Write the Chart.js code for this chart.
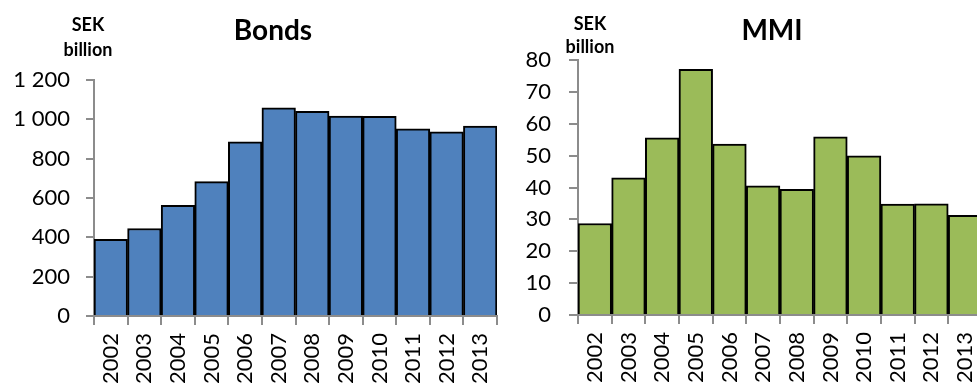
<!DOCTYPE html>
<html>
<head>
<meta charset="utf-8">
<script src="https://cdn.jsdelivr.net/npm/chart.js@4/dist/chart.umd.min.js"></script>
<style>
  html, body { margin: 0; padding: 0; background: #fff; }
  body { width: 977px; height: 387px; overflow: hidden; position: relative; }
  canvas { position: absolute; top: 0; }
  #bonds { left: 0; }
  #mmi { left: 500px; }
</style>
</head>
<body>
<canvas id="bonds" width="520" height="387"></canvas>
<canvas id="mmi" width="500" height="387"></canvas>
<script>
// Outstanding volumes by year, SEK billion
const years = ['2002', '2003', '2004', '2005', '2006', '2007', '2008', '2009', '2010', '2011', '2012', '2013'];
const bondValues = [390, 445, 563, 683, 886, 1058, 1041, 1017, 1015, 952, 937, 966];
const mmiValues = [28.7, 43.0, 55.6, 77.1, 53.6, 40.5, 39.4, 55.9, 49.9, 34.8, 34.9, 31.3];

// Value axis ranges
const bondAxis = { max: 1200, step: 200 };
const mmiAxis = { max: 80, step: 10 };

const FONT = 'Lato, "Open Sans", "DejaVu Sans", sans-serif';
const AXIS_GREY = '#8c8c8c';

// Draws headings and the unit label on top of the chart
const captionPlugin = {
  id: 'captions',
  afterDraw(chart, args, opts) {
    const ctx = chart.ctx;
    ctx.save();
    ctx.fillStyle = '#000';
    ctx.textAlign = 'center';
    ctx.textBaseline = 'alphabetic';
    (opts.items || []).forEach(it => {
      ctx.font = 'bold ' + it.size + 'px ' + FONT;
      ctx.fillText(it.text, it.x, it.y);
    });
    ctx.restore();
  }
};

function thousands(v) {
  return String(v).replace(/\B(?=(\d{3})+(?!\d))/g, ' ');
}

function makeChart(id, values, color, axis, geo, captions) {
  return new Chart(document.getElementById(id), {
    type: 'bar',
    data: {
      labels: years,
      datasets: [{
        data: values,
        backgroundColor: color,
        borderColor: '#000',
        borderWidth: 2,
        barPercentage: 1,
        categoryPercentage: 1
      }]
    },
    options: {
      responsive: false,
      animation: false,
      devicePixelRatio: 1,
      layout: { padding: { left: 0, top: geo.top, right: geo.right, bottom: 0 } },
      plugins: {
        legend: { display: false },
        tooltip: { enabled: false },
        captions: { items: captions }
      },
      scales: {
        x: {
          offset: true,
          grid: { display: true, offset: true, drawOnChartArea: false, drawTicks: true, tickLength: 9, color: AXIS_GREY, lineWidth: 2 },
          border: { display: true, color: AXIS_GREY, width: 2 },
          ticks: { color: '#000', font: { family: FONT, size: 22 }, minRotation: 90, maxRotation: 90, padding: 8, autoSkip: false },
          afterFit(s) { s.height = geo.xHeight; }
        },
        y: {
          min: 0,
          max: axis.max,
          grid: { display: true, drawOnChartArea: false, drawTicks: true, tickLength: geo.tick, color: AXIS_GREY, lineWidth: 2 },
          border: { display: true, color: AXIS_GREY, width: 2 },
          ticks: { stepSize: axis.step, color: '#000', font: { family: FONT, size: 22 }, padding: geo.pad, callback: v => thousands(v) },
          afterFit(s) { s.width = geo.yWidth; }
        }
      }
    },
    plugins: [captionPlugin]
  });
}

makeChart('bonds', bondValues, '#4F81BD', bondAxis,
  { top: 80, right: 23, xHeight: 71, yWidth: 94, tick: 8, pad: 16 },
  [
    { text: 'Bonds', x: 273, y: 40, size: 28 },
    { text: 'SEK', x: 88, y: 31, size: 18 },
    { text: 'billion', x: 88, y: 56, size: 18 }
  ]);

makeChart('mmi', mmiValues, '#9BBB59', mmiAxis,
  { top: 60, right: 13, xHeight: 72, yWidth: 78, tick: 9, pad: 18 },
  [
    { text: 'MMI', x: 272, y: 40, size: 28 },
    { text: 'SEK', x: 90, y: 30, size: 18 },
    { text: 'billion', x: 90, y: 53, size: 18 }
  ]);
</script>
</body>
</html>
